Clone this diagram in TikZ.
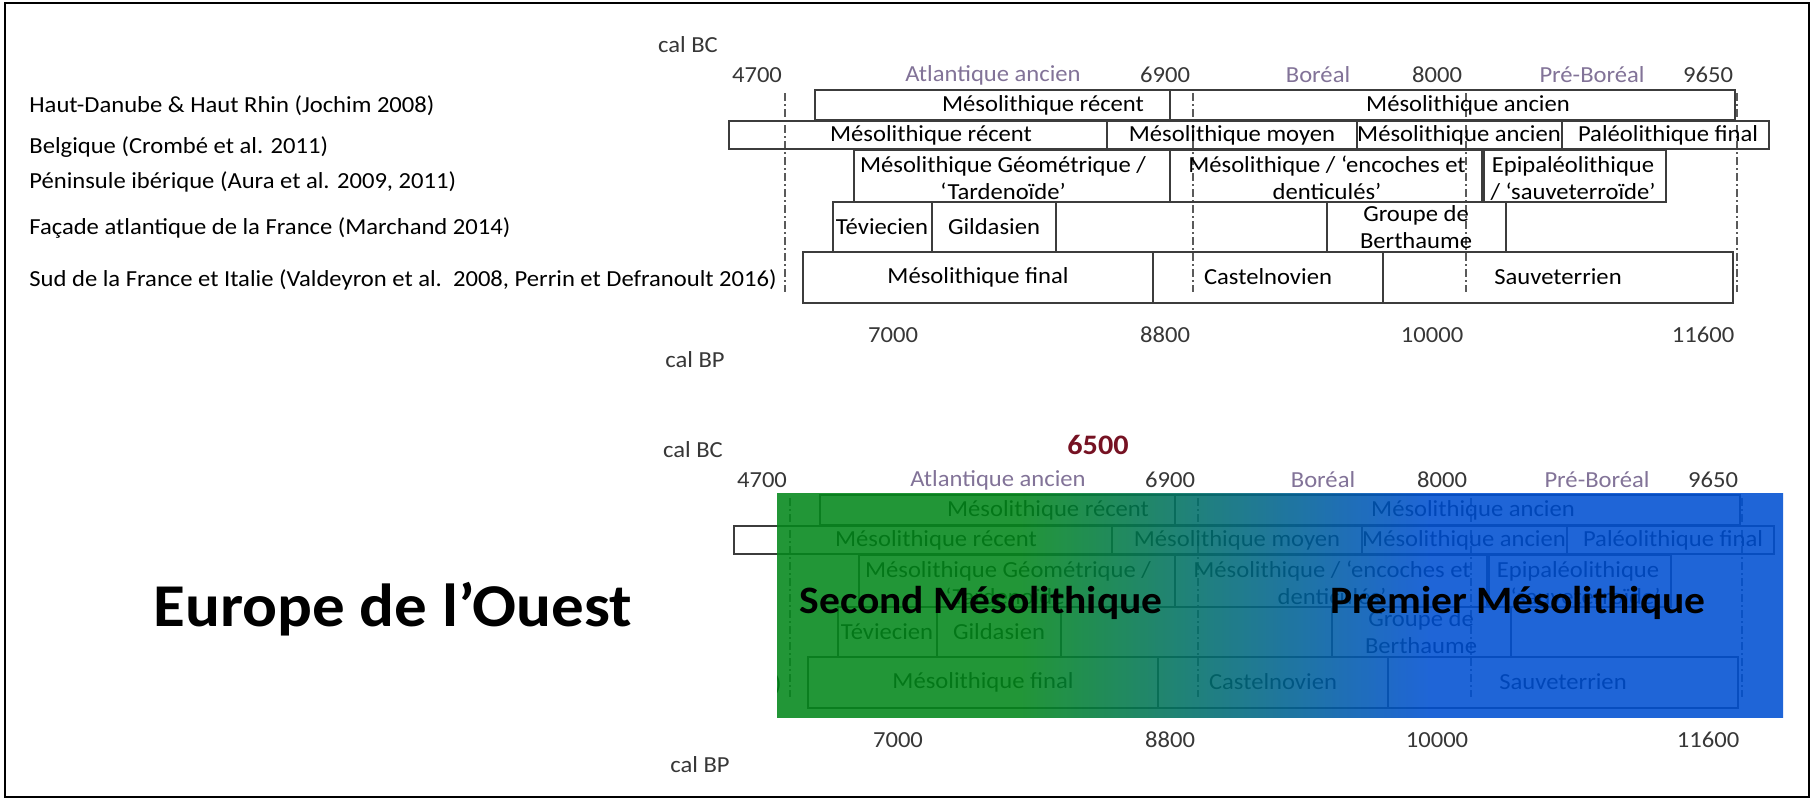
\documentclass[tikz,border=0pt]{standalone}
\usepackage{fontspec}
\setmainfont[FakeStretch=1.07]{Carlito}
\definecolor{numgray}{RGB}{55,55,55}
\definecolor{pergray}{RGB}{130,115,152}
\definecolor{boxgray}{RGB}{60,60,60}
\definecolor{ddgray}{RGB}{90,90,90}
\definecolor{darkred}{RGB}{118,18,35}
\definecolor{ovgreen}{RGB}{4,136,28}
\definecolor{ovblue}{RGB}{0,80,210}
\pgfdeclarehorizontalshading{gbshade}{100bp}{color(0bp)=(ovgreen); color(37bp)=(ovgreen); color(57.5bp)=(ovblue); color(100bp)=(ovblue)}
\tikzset{
  txt/.style={inner sep=0pt, font=\fontsize{11.5}{13.5}\selectfont, text=black},
  num/.style={inner sep=0pt, font=\fontsize{11.5}{13.5}\selectfont, text=numgray},
  per/.style={inner sep=0pt, font=\fontsize{11.5}{13.5}\selectfont, text=pergray},
  lbl/.style={inner sep=0pt, anchor=west, font=\fontsize{11.5}{13.5}\selectfont, text=black},
  two/.style={txt, align=center},
  bx/.style={draw=boxgray, line width=0.65pt},
  dd/.style={draw=ddgray, line width=0.6pt, dash pattern=on 4pt off 1.5pt on 1pt off 1.5pt},
  big/.style={inner sep=0pt, font=\fontsize{19.4}{24}\selectfont\bfseries, text=black},
}
\newcommand\mychart{%
  \node[num] (calbc) at (688,45) {cal BC};
  \node[num] (n4700) at (757,75) {4700};
  \node[per] (atl) at (993,75) {Atlantique ancien};
  \node[num] (n6900) at (1165,75) {6900};
  \node[per] (bor) at (1318,75) {Boréal};
  \node[num] (n8000) at (1437,75) {8000};
  \node[per] (pre) at (1592,75) {Pré-Boréal};
  \node[num] (n9650) at (1708,75) {9650};
  \node[num] (n7000) at (893,335) {7000};
  \node[num] (n8800) at (1165,335) {8800};
  \node[num] (n10000) at (1432,335) {10000};
  \node[num] (n11600) at (1703,335) {11600};
  \node[num] (calbp) at (695,360) {cal BP};
  % dash-dot limits
  \draw[dd] (785,93) -- (785,292);
  \draw[dd] (1193,93) -- (1193,292);
  \draw[dd] (1466,93) -- (1466,292);
  \draw[dd] (1737,93) -- (1737,292);
  % row 1
  \draw[bx] (815,90) rectangle (1170,119.5);
  \draw[bx] (1170,90) rectangle (1735,119.5);
  \node[txt] (r1a) at (1043,105) {Mésolithique récent};
  \node[txt] (r1b) at (1468,105) {Mésolithique ancien};
  % row 2
  \draw[bx] (729,121) rectangle (1107,149);
  \draw[bx] (1107,121) rectangle (1357,149);
  \draw[bx] (1357,121) rectangle (1562,149);
  \draw[bx] (1562,121) rectangle (1769,149);
  \node[txt] (r2a) at (931,135) {Mésolithique récent};
  \node[txt] (r2b) at (1232,135) {Mésolithique moyen};
  \node[txt] (r2c) at (1459,135) {Mésolithique ancien};
  \node[txt] (r2d) at (1668,135) {Paléolithique final};
  % row 3
  \draw[bx] (854,150) rectangle (1170,202);
  \draw[bx] (1170,150) rectangle (1482,202);
  \draw[bx] (1484,150) rectangle (1666,202);
  \node[two] (r3a) at (1003,178) {Mésolithique Géométrique /\\‘Tardenoïde’};
  \node[two] (r3b) at (1327,178) {Mésolithique / ‘encoches et\\denticulés’};
  \node[two] (r3c) at (1573,178) {Epipaléolithique\\/ ‘sauveterroïde’};
  % row 4
  \draw[bx] (833,202) rectangle (932,252);
  \draw[bx] (932,202) rectangle (1056,252);
  \draw[bx] (1327,202) rectangle (1506,252);
  \node[txt] (r4a) at (882,227) {Téviecien};
  \node[txt] (r4b) at (994,227) {Gildasien};
  \node[two] (r4c) at (1416,227) {Groupe de\\Berthaume};
  % row 5
  \draw[bx] (803,252) rectangle (1153,303);
  \draw[bx] (1153,252) rectangle (1383,303);
  \draw[bx] (1383,252) rectangle (1733,303);
  \node[txt] (r5a) at (978,277) {Mésolithique final};
  \node[txt] (r5b) at (1268,277) {Castelnovien};
  \node[txt] (r5c) at (1558,277) {Sauveterrien};
}
\begin{document}
\begin{tikzpicture}[x=0.5pt,y=-0.5pt]
\useasboundingbox (0,0) rectangle (1813,800);
\fill[white] (0,0) rectangle (1813,800);
\draw[black, line width=1pt] (5,3) rectangle (1809,797);
% top chart
\begin{scope}[name prefix=top-]
  \mychart
  \node[lbl] (l1) at (29,106) {Haut-Danube \& Haut Rhin (Jochim 2008)};
  \node[lbl] (l2) at (29,147) {Belgique (Crombé et al. 2011)};
  \node[lbl] (l3) at (29,182) {Péninsule ibérique (Aura et al. 2009, 2011)};
  \node[lbl] (l4) at (29,228) {Façade atlantique de la France (Marchand 2014)};
  \node[lbl] (l5) at (29,280) {Sud de la France et Italie (Valdeyron et al.\ \ 2008, Perrin et Defranoult 2016)};
\end{scope}
% bottom chart (copy under the overlay)
\begin{scope}[shift={(5,405)}, name prefix=bot-]
  \mychart
  \begin{scope}
    \clip (772,240) rectangle (800,320);
    \node[txt, anchor=east] (paren) at (777,280) {)};
  \end{scope}
\end{scope}
% overlay
\shade[shading=gbshade, opacity=0.88] (777,493) rectangle (1783,717);
\node[inner sep=0pt, font=\fontsize{14.1}{17}\selectfont\bfseries, text=darkred] (y6500) at (1098,445) {6500};
\node[inner sep=0pt, font=\fontsize{30.4}{36}\selectfont\bfseries] (europe) at (393,609) {Europe de l’Ouest};
\node[big] (second) at (981,603) {Second Mésolithique};
\node[big] (premier) at (1518,603) {Premier Mésolithique};
\end{tikzpicture}
\end{document}
